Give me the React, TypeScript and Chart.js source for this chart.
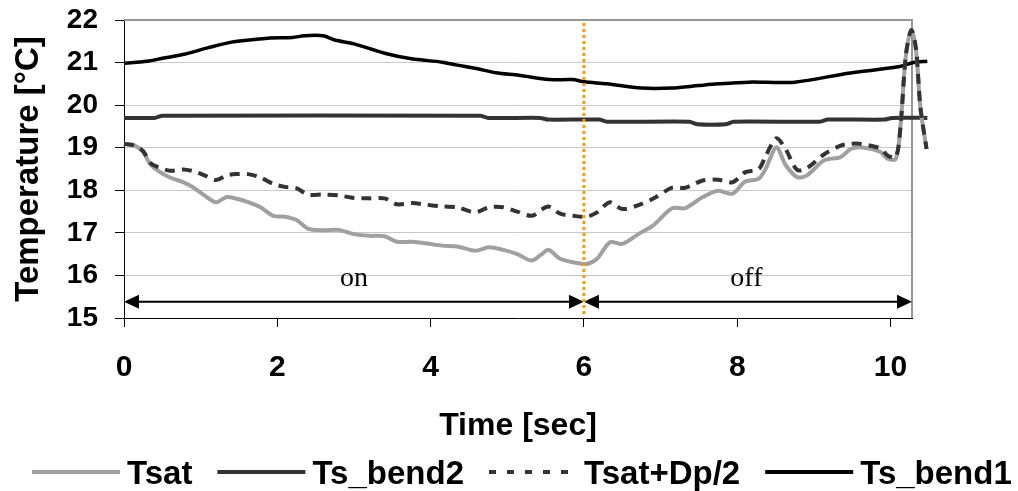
import React, { useEffect, useRef } from 'react';
import { Chart, registerables } from 'chart.js';

Chart.register(...registerables);

const seriesNames = ['Tsat', 'Ts_bend2', 'Tsat+Dp/2', 'Ts_bend1'];
const xTickValues = [0, 2, 4, 6, 8, 10];
const xMax = 10.28;
const yMin = 15;
const yMax = 22;

const satTime = [0, 0.14, 0.25, 0.34, 0.45, 0.6, 0.77, 0.9, 1.05, 1.2, 1.34, 1.47, 1.62, 1.78, 1.95, 2.1, 2.25, 2.4, 2.6, 2.8, 3.0, 3.2, 3.4, 3.56, 3.76, 3.95, 4.15, 4.35, 4.58, 4.76, 4.95, 5.13, 5.32, 5.45, 5.54, 5.69, 5.86, 6.04, 6.17, 6.34, 6.5, 6.71, 6.9, 7.15, 7.32, 7.55, 7.75, 7.94, 8.1, 8.28, 8.37, 8.51, 8.63, 8.78, 8.91, 9.13, 9.35, 9.48, 9.61, 9.87, 9.96, 10.07, 10.13, 10.2, 10.27, 10.33, 10.39, 10.47];
const tsatValues = [19.09, 19.05, 18.9, 18.62, 18.45, 18.3, 18.19, 18.07, 17.88, 17.72, 17.84, 17.8, 17.72, 17.6, 17.4, 17.38, 17.3, 17.1, 17.06, 17.07, 16.97, 16.93, 16.92, 16.79, 16.79, 16.75, 16.7, 16.68, 16.58, 16.66, 16.6, 16.5, 16.35, 16.5, 16.6, 16.39, 16.31, 16.27, 16.39, 16.78, 16.74, 16.97, 17.17, 17.58, 17.58, 17.84, 17.99, 17.92, 18.2, 18.27, 18.5, 19.01, 18.6, 18.31, 18.35, 18.7, 18.78, 18.97, 19.01, 18.9, 18.74, 18.74, 19.52, 21.17, 21.76, 21.33, 19.92, 18.97];
const tsatDpValues = [19.09, 19.05, 18.92, 18.65, 18.54, 18.46, 18.49, 18.45, 18.35, 18.24, 18.35, 18.38, 18.38, 18.3, 18.15, 18.08, 18.05, 17.9, 17.9, 17.88, 17.82, 17.81, 17.81, 17.67, 17.7, 17.66, 17.62, 17.6, 17.48, 17.6, 17.6, 17.5, 17.4, 17.55, 17.62, 17.45, 17.4, 17.38, 17.48, 17.72, 17.56, 17.65, 17.8, 18.06, 18.06, 18.23, 18.25, 18.19, 18.42, 18.5, 18.8, 19.22, 18.97, 18.48, 18.52, 18.84, 19.05, 19.09, 19.09, 18.98, 18.82, 18.78, 19.5, 21.17, 21.76, 21.35, 19.95, 18.97];

const bend1Time = [0, 0.3, 0.5, 0.8, 1.1, 1.4, 1.7, 1.9, 2.2, 2.35, 2.6, 2.75, 3.0, 3.4, 3.75, 4.15, 4.35, 4.6, 4.85, 5.15, 5.55, 5.85, 6.0, 6.3, 6.75, 7.15, 7.5, 7.75, 8.15, 8.75, 9.45, 10.1, 10.3, 10.48];
const bend1Values = [20.98, 21.03, 21.1, 21.2, 21.35, 21.48, 21.54, 21.58, 21.59, 21.63, 21.63, 21.53, 21.44, 21.22, 21.09, 21.01, 20.94, 20.86, 20.76, 20.7, 20.6, 20.6, 20.55, 20.5, 20.4, 20.4, 20.46, 20.5, 20.54, 20.54, 20.75, 20.9, 21.0, 21.03];

const bend2Time = [0, 0.4, 0.5, 4.65, 4.75, 5.43, 5.53, 6.2, 6.3, 7.38, 7.48, 7.85, 7.95, 9.08, 9.18, 9.92, 10.02, 10.48];
const bend2Values = [19.7, 19.7, 19.75, 19.75, 19.7, 19.7, 19.66, 19.66, 19.61, 19.61, 19.55, 19.55, 19.61, 19.61, 19.66, 19.66, 19.7, 19.7];

const phaseLabels = ['on', 'off'];
const phaseLabelTime = [3.0, 8.12];
const phaseLabelTemp = 15.76;
const phaseBounds = [0, 6, xMax];
const arrowTemp = 15.38;
const switchTime = 6;

const SANS = "'Liberation Sans', Arial, sans-serif";
const SERIF = "'Liberation Serif', 'Times New Roman', serif";

function toPoints(t: number[], v: number[]) {
  return t.map((x, i) => ({ x, y: v[i] }));
}

function arrowHead(ctx: CanvasRenderingContext2D, tipX: number, y: number, dir: number) {
  const len = 15;
  const half = 7;
  ctx.beginPath();
  ctx.moveTo(tipX, y);
  ctx.lineTo(tipX - dir * len, y - half);
  ctx.lineTo(tipX - dir * len, y + half);
  ctx.closePath();
  ctx.fill();
}

const legendDash: Record<number, number[]> = { 2: [7, 11] };

const framePlugin = {
  id: 'frame',
  beforeDatasetsDraw(chart: any) {
    const { ctx, chartArea } = chart;
    ctx.save();
    ctx.strokeStyle = '#969696';
    ctx.lineWidth = 2;
    ctx.beginPath();
    ctx.moveTo(chartArea.left, chartArea.top);
    ctx.lineTo(chartArea.right, chartArea.top);
    ctx.lineTo(chartArea.right, chartArea.bottom);
    ctx.stroke();
    ctx.restore();
  },
  afterDatasetsDraw(chart: any) {
    const { ctx, scales } = chart;
    const x = scales.x;
    const y = scales.y;
    ctx.save();
    const ay = y.getPixelForValue(arrowTemp);
    ctx.strokeStyle = '#000';
    ctx.fillStyle = '#000';
    ctx.lineWidth = 2;
    for (let i = 0; i < phaseBounds.length - 1; i++) {
      const x0 = x.getPixelForValue(phaseBounds[i]);
      const x1 = x.getPixelForValue(phaseBounds[i + 1]);
      ctx.beginPath();
      ctx.moveTo(x0 + 4, ay);
      ctx.lineTo(x1 - 4, ay);
      ctx.stroke();
      arrowHead(ctx, x0, ay, -1);
      arrowHead(ctx, x1, ay, 1);
    }
    ctx.font = `28px ${SERIF}`;
    ctx.textAlign = 'center';
    ctx.textBaseline = 'alphabetic';
    phaseLabels.forEach((txt, i) => {
      ctx.fillText(txt, x.getPixelForValue(phaseLabelTime[i]), y.getPixelForValue(phaseLabelTemp));
    });
    const sx = x.getPixelForValue(switchTime);
    ctx.strokeStyle = '#ff9900';
    ctx.lineWidth = 3;
    ctx.setLineDash([3, 3]);
    ctx.beginPath();
    ctx.moveTo(sx, y.getPixelForValue(yMax) + 3);
    ctx.lineTo(sx, y.getPixelForValue(yMin) - 3);
    ctx.stroke();
    ctx.restore();
  },
  afterDraw(chart: any) {
    // legend row along the bottom, built from the datasets
    const { ctx } = chart;
    const lineLen = 88;
    const textGap = 7;
    const itemGap = 25;
    const cy = 472;
    let cx = 32;
    ctx.save();
    ctx.font = `bold 33px ${SANS}`;
    ctx.textAlign = 'left';
    ctx.textBaseline = 'alphabetic';
    chart.data.datasets.forEach((ds: any, i: number) => {
      ctx.strokeStyle = ds.borderColor;
      ctx.lineWidth = 4;
      ctx.lineCap = 'butt';
      ctx.setLineDash(legendDash[i] || []);
      ctx.beginPath();
      ctx.moveTo(cx, cy);
      ctx.lineTo(cx + lineLen, cy);
      ctx.stroke();
      ctx.setLineDash([]);
      ctx.fillStyle = '#000';
      const tx = cx + lineLen + textGap;
      ctx.fillText(ds.label, tx, cy + 12);
      cx = tx + ctx.measureText(ds.label).width + itemGap;
    });
    ctx.restore();
  },
};

export default function App() {
  const canvasRef = useRef<HTMLCanvasElement | null>(null);

  useEffect(() => {
    if (!canvasRef.current) return;
    const chart = new Chart(canvasRef.current, {
      type: 'line',
      data: {
        datasets: [
          {
            label: seriesNames[0],
            data: toPoints(satTime, tsatValues),
            borderColor: '#a0a0a0',
            backgroundColor: '#a0a0a0',
            borderWidth: 4,
            pointRadius: 0,
            tension: 0.3,
            clip: false as any,
            order: 1,
          },
          {
            label: seriesNames[1],
            data: toPoints(bend2Time, bend2Values),
            borderColor: '#333333',
            backgroundColor: '#333333',
            borderWidth: 4,
            pointRadius: 0,
            tension: 0.2,
            clip: false as any,
            order: 3,
          },
          {
            label: seriesNames[2],
            data: toPoints(satTime, tsatDpValues),
            borderColor: '#333333',
            backgroundColor: '#333333',
            borderWidth: 4,
            borderDash: [10, 7],
            pointRadius: 0,
            tension: 0.3,
            clip: false as any,
            order: 0,
          },
          {
            label: seriesNames[3],
            data: toPoints(bend1Time, bend1Values),
            borderColor: '#000000',
            backgroundColor: '#000000',
            borderWidth: 3.5,
            pointRadius: 0,
            tension: 0.3,
            clip: false as any,
            order: 2,
          },
        ],
      },
      options: {
        animation: false,
        responsive: true,
        maintainAspectRatio: false,
        devicePixelRatio: 1,
        layout: { padding: { top: 20, left: 0, right: 0, bottom: 60 } },
        plugins: {
          tooltip: { enabled: false },
          legend: { display: false },
        },
        scales: {
          x: {
            type: 'linear',
            bounds: 'data',
            afterDataLimits: (s: any) => {
              s.min = 0;
              s.max = xMax;
            },
            afterBuildTicks: (s: any) => {
              s.ticks = xTickValues.map((v) => ({ value: v }));
            },
            afterFit: (s: any) => {
              s.height = 113;
            },
            grid: { drawOnChartArea: false, drawTicks: true, tickLength: 9, tickColor: '#000' },
            border: { display: true, color: '#000', width: 1 },
            ticks: {
              color: '#000',
              padding: 23,
              maxRotation: 0,
              autoSkip: false,
              font: { family: SANS, size: 30, weight: 'bold' },
            },
            title: {
              display: true,
              text: 'Time [sec]',
              color: '#000',
              font: { family: SANS, size: 32, weight: 'bold' },
              padding: { top: 0, bottom: -14 },
            },
          },
          y: {
            type: 'linear',
            position: 'left',
            min: yMin,
            max: yMax,
            afterFit: (s: any) => {
              s.width = 124;
              s.paddingTop = 0;
              s.paddingBottom = 0;
            },
            ticks: {
              stepSize: 1,
              autoSkip: false,
              color: '#000',
              padding: 17,
              font: { family: SANS, size: 28, weight: 'bold' },
            },
            grid: { color: '#c8c8c8', lineWidth: 1, tickLength: 9, tickColor: '#000' },
            border: { display: true, color: '#000', width: 1 },
            title: {
              display: true,
              text: 'Temperature [°C]',
              color: '#000',
              font: { family: SANS, size: 33, weight: 'bold' },
              padding: { top: 9, bottom: 0 },
            },
          },
          yRight: {
            type: 'linear',
            position: 'right',
            display: true,
            min: yMin,
            max: yMax,
            afterFit: (s: any) => {
              s.width = 106;
              s.paddingTop = 0;
              s.paddingBottom = 0;
            },
            grid: { display: false, drawTicks: false },
            border: { display: false },
            ticks: { display: false },
          },
        },
      },
      plugins: [framePlugin],
    });
    return () => chart.destroy();
  }, []);

  return (
    <div style={{ position: 'fixed', left: 0, top: 0, width: 1018, height: 491, background: '#fff' }}>
      <canvas ref={canvasRef} />
    </div>
  );
}
